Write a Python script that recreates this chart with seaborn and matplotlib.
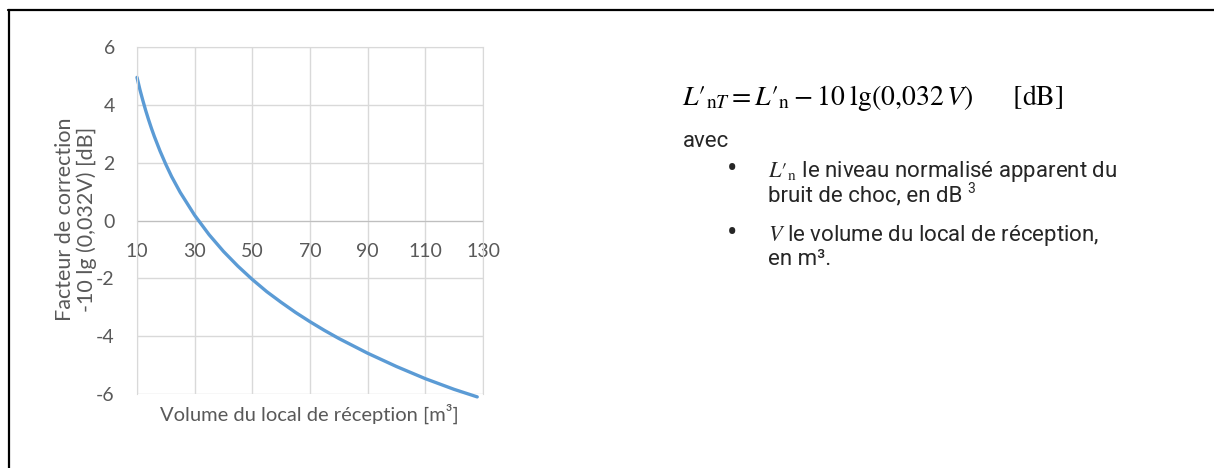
import numpy as np
import pandas as pd
import matplotlib
matplotlib.use("Agg")
import matplotlib.pyplot as plt
from matplotlib.lines import Line2D
import seaborn as sns

# values
volume = [10, 11, 12, 13, 14, 15, 16, 18, 20, 22, 25, 30, 35, 40, 45, 50, 55,
          60, 65, 70, 75, 80, 90, 100, 110, 120, 128]
correction = [4.95, 4.53, 4.16, 3.81, 3.49, 3.19, 2.91, 2.40, 1.94, 1.52, 0.97,
              0.18, -0.49, -1.07, -1.58, -2.04, -2.46, -2.83, -3.18, -3.50,
              -3.80, -4.08, -4.59, -5.05, -5.47, -5.84, -6.10]
x_ticks = [10, 30, 50, 70, 90, 110, 130]
y_ticks = [-6, -4, -2, 0, 2, 4, 6]

W, H = 1214, 468
sns.set_style("white")
plt.rcParams["font.family"] = ["Lato", "DejaVu Sans"]
plt.rcParams["axes.unicode_minus"] = False

fig = plt.figure(figsize=(W / 100, H / 100), dpi=100)
ax = fig.add_axes([137 / W, 1 - 394 / H, 346 / W, 347 / H])

df = pd.DataFrame({"volume": volume, "correction": correction})
sns.lineplot(data=df, x="volume", y="correction", ax=ax, color="#5B9BD5",
             linewidth=2.4)
for line in ax.lines:
    line.set_clip_on(False)

ax.set_xlim(10, 130)
ax.set_ylim(-6, 6)
ax.set_xticks(x_ticks)
ax.set_yticks(y_ticks)
ax.grid(True, color="#d9d9d9", linewidth=1)
for side in ["top", "right", "left"]:
    ax.spines[side].set_color("#d9d9d9")
ax.spines["bottom"].set_position(("data", 0))
ax.spines["bottom"].set_color("#bfbfbf")
ax.spines["bottom"].set_zorder(1)
ax.tick_params(axis="x", length=0, pad=16, labelsize=14, labelcolor="#595959")
ax.tick_params(axis="y", length=0, pad=16, labelsize=14, labelcolor="#595959")

ax.set_xlabel("")
ax.set_ylabel("")
fig.text(309 / W, 1 - 414 / H, "Volume du local de réception [m³]",
         ha="center", va="center", fontsize=14.5, color="#595959")
fig.text(76 / W, 1 - 219 / H, "Facteur de correction\n-10 lg (0,032V) [dB]",
         ha="center", va="center", rotation=90, fontsize=15.5, color="#595959",
         linespacing=1.05)

# text block on the right
tf = ["Roboto", "DejaVu Sans"]
fs = 16
fig.text(682 / W, 1 - 105 / H,
         "$L\u2032_{\\mathrm{n}T} = L\u2032_{\\mathrm{n}} - 10\\;\\mathrm{lg}(0{,}032\\,V)\\quad\\quad[\\mathrm{dB}]$",
         fontsize=20, math_fontfamily="stix", va="baseline", color="black")
fig.text(683 / W, 1 - 147 / H, "avec", family=tf, fontsize=fs, va="baseline")
fig.text(727 / W, 1 - 178 / H, "•", family=tf, fontsize=22, va="baseline")
fig.text(768 / W, 1 - 177 / H,
         "$L\u2032_{\\mathrm{n}}$ le niveau normalisé apparent du", family=tf,
         math_fontfamily="stix", fontsize=fs, va="baseline")
choc = fig.text(768 / W, 1 - 201 / H, "bruit de choc, en dB", family=tf,
                fontsize=fs, va="baseline")
bb = choc.get_window_extent(renderer=fig.canvas.get_renderer())
fig.text((bb.x1 + 5) / W, 1 - 193 / H, "3", family=tf, fontsize=10,
         va="baseline")
fig.text(727 / W, 1 - 242 / H, "•", family=tf, fontsize=22, va="baseline")
fig.text(768 / W, 1 - 241 / H, "$V$ le volume du local de réception,",
         family=tf, math_fontfamily="stix", fontsize=fs, va="baseline")
fig.text(768 / W, 1 - 265 / H, "en m³.", family=tf, fontsize=fs,
         va="baseline")

# cell border (top and left)
fig.add_artist(Line2D([8 / W, 1], [1 - 10 / H, 1 - 10 / H], color="black",
                      linewidth=1.6, transform=fig.transFigure))
fig.add_artist(Line2D([9 / W, 9 / W], [1 - 10 / H, 0], color="black",
                      linewidth=1.6, transform=fig.transFigure))

fig.savefig("out.png", dpi=100)
